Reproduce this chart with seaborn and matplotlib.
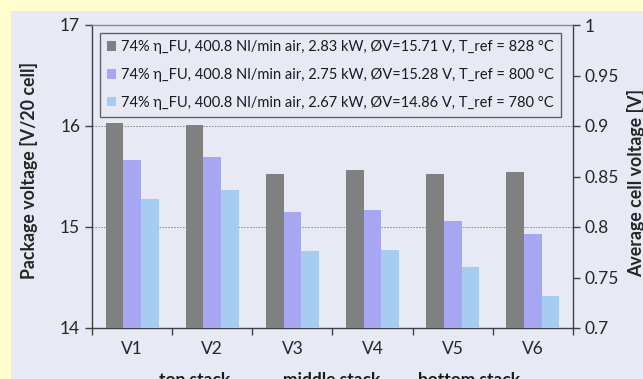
import numpy as np
import pandas as pd
import seaborn as sns
import matplotlib.pyplot as plt
from matplotlib.patches import Rectangle

# data
positions = ['V1', 'V2', 'V3', 'V4', 'V5', 'V6']
conditions = [
    '74% η_FU, 400.8 Nl/min air, 2.83 kW, ØV=15.71 V, T_ref = 828 °C',
    '74% η_FU, 400.8 Nl/min air, 2.75 kW, ØV=15.28 V, T_ref = 800 °C',
    '74% η_FU, 400.8 Nl/min air, 2.67 kW, ØV=14.86 V, T_ref = 780 °C',
]
volt_828 = [16.03, 16.01, 15.52, 15.56, 15.52, 15.54]
volt_800 = [15.66, 15.69, 15.15, 15.17, 15.06, 14.93]
volt_780 = [15.28, 15.37, 14.76, 14.77, 14.60, 14.32]
stack_labels = ['top stack', 'middle stack', 'bottom stack']
stack_pos = [0.78, 2.49, 4.20]
right_ticks = [0.7, 0.75, 0.8, 0.85, 0.9, 0.95, 1.0]
right_ticklabels = ['0.7', '0.75', '0.8', '0.85', '0.9', '0.95', '1']

colors = ['#808080', '#9999FF', '#99CCFF']
yellow = '#FFFDCB'
panel = '#E7EAF4'

rows = []
for cond, vals in zip(conditions, [volt_828, volt_800, volt_780]):
    for p, v in zip(positions, vals):
        rows.append({'position': p, 'condition': cond, 'voltage': v})
df = pd.DataFrame(rows)

sns.set_style('ticks')
plt.rcParams['font.family'] = ['Lato', 'DejaVu Sans']
plt.rcParams['text.color'] = '#1a1a1a'

fig = plt.figure(figsize=(6.43, 3.79), dpi=100)
fig.patch.set_facecolor(yellow)
fig.patches.append(Rectangle((11 / 643, 0), 1, 1 - 11 / 379, transform=fig.transFigure,
                             facecolor=panel, edgecolor='none', zorder=-10))

ax = fig.add_axes([92 / 643, 1 - 328 / 379, 481 / 643, 303 / 379])
ax.set_facecolor(panel)
sns.barplot(data=df, x='position', y='voltage', hue='condition', palette=colors,
            width=0.66, ax=ax, edgecolor='none', linewidth=0, zorder=3)

ax.set_ylim(14, 17)
ax.set_xlim(-0.5, 5.5)
ax.set_yticks([14, 15, 16, 17])
for y in [15, 16]:
    ax.axhline(y, color='#808080', lw=0.6, ls=(0, (2, 1.5)), zorder=1)

ax.set_xlabel('')
ax.set_ylabel('Package voltage [V/20 cell]', fontsize=12.8, fontweight='bold')
ax.yaxis.set_label_coords(-0.112, 0.52)
ax.tick_params(axis='y', labelsize=12.5, length=5, color='#404040', width=1)
ax.tick_params(axis='x', which='major', labelsize=12.5, length=0, pad=9)
ax.set_xticks(np.arange(-0.5, 6, 1), minor=True)
ax.tick_params(axis='x', which='minor', length=5, color='#404040', width=1)

for s in ['left', 'bottom', 'right']:
    ax.spines[s].set_color('#404040')
    ax.spines[s].set_linewidth(1)
ax.spines['top'].set_color('#8c8c8c')
ax.spines['top'].set_linewidth(1)

for lbl, xp in zip(stack_labels, stack_pos):
    ax.text(xp, -0.145, lbl, transform=ax.get_xaxis_transform(), ha='center',
            va='top', fontsize=12.5, fontweight='bold')

ax2 = ax.twinx()
ax2.set_ylim(0.7, 1.0)
ax2.set_yticks(right_ticks)
ax2.set_yticklabels(right_ticklabels)
ax2.tick_params(axis='y', labelsize=12.5, length=5, color='#404040', width=1)
ax2.set_ylabel('Average cell voltage [V]', fontsize=12.8, fontweight='bold', rotation=90)
ax2.yaxis.set_label_coords(1.112, 0.48)
for s in ax2.spines.values():
    s.set_visible(False)

leg = ax.legend(loc='upper left', bbox_to_anchor=(0.017, 0.974), ncol=1,
                frameon=True, fancybox=False, fontsize=10.5, handlelength=0.6,
                handleheight=0.6, handletextpad=0.3, labelspacing=0.95,
                borderpad=0.5, borderaxespad=0, title=None)
leg.get_frame().set_edgecolor('#404040')
leg.get_frame().set_facecolor(panel)
leg.get_frame().set_linewidth(1)
leg.set_zorder(5)

fig.savefig('out.png', dpi=100, facecolor=fig.get_facecolor())
